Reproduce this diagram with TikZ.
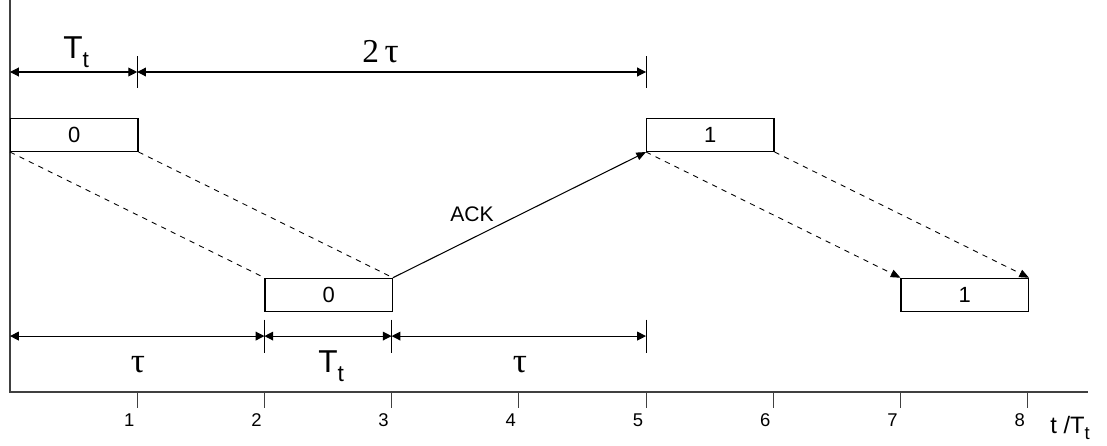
\documentclass[tikz,border=0pt]{standalone}
\usepackage{fontspec}
\setmainfont{Liberation Sans}
\newfontfamily\greekfont{Liberation Serif}
\usetikzlibrary{arrows.meta,positioning}
\newcommand{\Tt}{T\raisebox{-0.55ex}{\fontsize{13}{13}\selectfont t}}
\newcommand{\tauS}{{\greekfont\fontsize{20}{22}\selectfont τ}}

\begin{document}
\begin{tikzpicture}[
    x=2.544cm,y=2.544cm,
    frame/.style={rectangle,draw=black,line width=0.75pt,minimum width=2.544cm,minimum height=0.66cm,inner sep=0pt,font=\fontsize{12.5}{14}\selectfont},
    dim/.style={{Triangle[length=5pt,width=5pt]}-{Triangle[length=5pt,width=5pt]},line width=0.6pt},
    dimlabel/.style={font=\fontsize{18}{20}\selectfont,inner sep=0pt},
    ticklabel/.style={font=\fontsize{10.5}{12}\selectfont,inner sep=0pt,anchor=base},
    frameline/.style={dashed,line width=0.5pt},
    tip/.style={-{Triangle[length=5.5pt,width=4.5pt]}}
]
\useasboundingbox (-0.0786,-0.417) rectangle (8.624,3.082);

% axes
\draw[line width=0.8pt,black!75] (0,3.082) -- (0,0) -- (8.475,0);
\foreach \t in {1,...,8} {
  \draw[line width=0.6pt,black!75] (\t,0) -- (\t,-0.126);
  \node[ticklabel] (tick\t) at (\t-0.063,-0.267) {\t};
}
\node[dimlabel,font=\fontsize{13.5}{15}\selectfont,anchor=base west] (taxis) at (8.176,-0.325) {t /T\raisebox{-0.5ex}{\fontsize{10.5}{11}\selectfont t}};

% frames
\node[frame,anchor=south west] (s0) at (0,1.887) {0};
\node[frame,anchor=south west] (r0) at (2,0.629) {0};
\node[frame,anchor=south west] (s1) at (5,1.887) {1};
\node[frame,anchor=south west] (r1) at (7,0.629) {1};

% propagation
\draw[frameline] (s0.south west) -- (r0.north west);
\draw[frameline] (s0.south east) -- (r0.north east);
\draw[line width=0.6pt,tip] (r0.north east) -- (s1.south west);
\node[font=\fontsize{12}{14}\selectfont,inner sep=0pt,anchor=base west] (ack) at (3.459,1.344) {ACK};
\draw[frameline,tip] (s1.south west) -- (r1.north west);
\draw[frameline,tip] (s1.south east) -- (r1.north east);

% dimension marks
\coordinate (a0) at (0,2.516);
\coordinate (a1) at (1,2.516);
\coordinate (a5) at (5,2.516);
\coordinate (b0) at (0,0.44);
\coordinate (b2) at (2,0.44);
\coordinate (b3) at (3,0.44);
\coordinate (b5) at (5,0.44);
\draw[line width=0.6pt] (1,2.64) -- (1,2.39);
\draw[line width=0.6pt] (5,2.64) -- (5,2.39);
\foreach \t in {2,3,5}
  \draw[line width=0.6pt] (\t,0.57) -- (\t,0.31);
\draw[dim] (a0) -- (a1);
\draw[dim] (a1) -- (a5);
\draw[dim] (b0) -- (b2);
\draw[dim] (b2) -- (b3);
\draw[dim] (b3) -- (b5);
\node[dimlabel,anchor=base west] (lTt) at (0.417,2.626) {\Tt};
\node[dimlabel,anchor=base west,font=\greekfont\fontsize{19}{20}\selectfont] (l2tau) at (2.767,2.594) {2\,\tauS};
\node[dimlabel,anchor=base] (ltau1) at (1.006,0.157) {\tauS};
\node[dimlabel,anchor=base west] (lTt2) at (2.421,0.157) {\Tt};
\node[dimlabel,anchor=base] (ltau2) at (4.009,0.157) {\tauS};

\end{tikzpicture}
\end{document}
